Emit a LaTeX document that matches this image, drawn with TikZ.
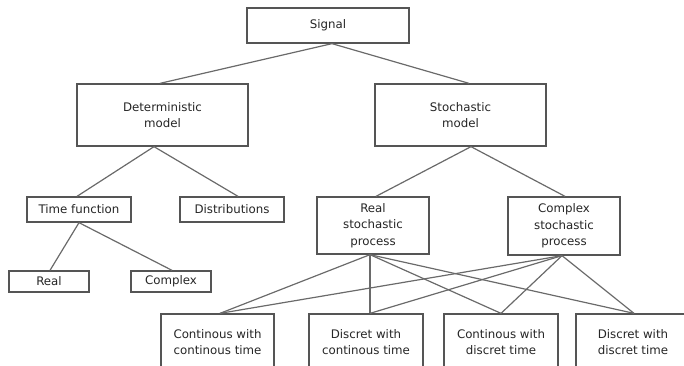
\documentclass[tikz,border=0pt]{standalone}
\usepackage{fontspec}
\setmainfont{DejaVu Sans}
\definecolor{boxc}{HTML}{555555}
\definecolor{linec}{HTML}{6A6A6A}
\begin{document}
\begin{tikzpicture}[x=1pt,y=-1pt,
  box/.style={draw=boxc, line width=1.3pt, fill=white, inner sep=0pt, align=center,
    font=\fontsize{11.8}{16.5}\selectfont, text=black!85},
  link/.style={draw=linec, line width=1.2pt}]
\useasboundingbox (0,0) rectangle (684,366);
\clip (0,0) rectangle (684,366);
\node[box, minimum width=162pt, minimum height=35pt] (signal) at (328,25.5) {Signal};
\node[box, minimum width=171pt, minimum height=62pt] (det) at (162.5,115) {Deterministic\\model};
\node[box, minimum width=171pt, minimum height=62pt] (stoch) at (460.5,115) {Stochastic\\model};
\node[box, minimum width=104pt, minimum height=25pt] (tf) at (79,209.5) {Time function};
\node[box, minimum width=104pt, minimum height=25pt] (dist) at (232,209.5) {Distributions};
\node[box, minimum width=80pt, minimum height=21pt] (real) at (49,281.5) {Real};
\node[box, minimum width=80pt, minimum height=21pt] (complex) at (171,281.5) {Complex};
\node[box, minimum width=112pt, minimum height=57pt] (rsp) at (373,225.5) {Real\\stochastic\\process};
\node[box, minimum width=112pt, minimum height=58pt] (csp) at (564,226) {Complex\\stochastic\\process};
\node[box, minimum width=113pt, minimum height=56pt] (b1) at (217.5,342) {Continous with\\continous time};
\node[box, minimum width=114pt, minimum height=56pt] (b2) at (366,342) {Discret with\\continous time};
\node[box, minimum width=114pt, minimum height=56pt] (b3) at (501,342) {Continous with\\discret time};
\node[box, minimum width=114pt, minimum height=56pt] (b4) at (633,342) {Discret with\\discret time};
\draw[link] ([xshift=4pt]signal.south) -- ([xshift=-2.5pt]det.north);
\draw[link] ([xshift=4pt]signal.south) -- ([xshift=8.5pt]stoch.north);
\draw[link] ([xshift=-8.5pt]det.south) -- ([xshift=-2pt]tf.north);
\draw[link] ([xshift=-8.5pt]det.south) -- ([xshift=6pt]dist.north);
\draw[link] ([xshift=10.5pt]stoch.south) -- ([xshift=3pt]rsp.north);
\draw[link] ([xshift=10.5pt]stoch.south) -- ([xshift=1pt]csp.north);
\draw[link] (tf.south) -- ([xshift=1pt]real.north);
\draw[link] (tf.south) -- ([xshift=1pt]complex.north);
\foreach \s/\o in {rsp/-3pt, csp/-2pt}{
  \draw[link] ([xshift=\o]\s.south) -- ([xshift=2.5pt]b1.north);
  \draw[link] ([xshift=\o]\s.south) -- ([xshift=4pt]b2.north);
  \draw[link] ([xshift=\o]\s.south) -- (b3.north);
  \draw[link] ([xshift=\o]\s.south) -- ([xshift=1pt]b4.north);
}
\end{tikzpicture}
\end{document}
